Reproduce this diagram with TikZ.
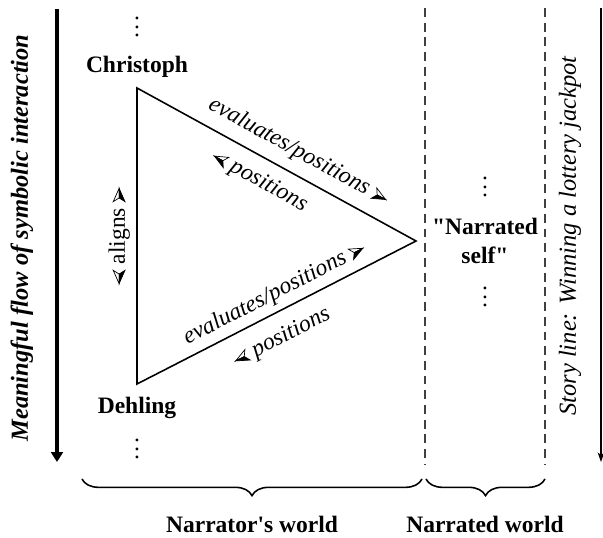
\documentclass[tikz,border=0pt]{standalone}
\usepackage{fontspec}
\setmainfont{Liberation Serif}[Ligatures=TeXOff]
\usepackage{graphicx}
\usetikzlibrary{positioning, arrows.meta, decorations.pathreplacing}

% small half-shaded arrowheads used inside the labels
\newcommand{\arwright}{\tikz[x=1pt, y=1pt, baseline=0pt, line width=0.35pt, line join=miter]{
		\filldraw[fill=white] (6.8,3) -- (0,6) -- (1.9,3) -- cycle;
		\filldraw[fill=black] (6.8,3) -- (1.9,3) -- (0,0) -- cycle;}}
\newcommand{\arwleft}{\reflectbox{\arwright}}
\newcommand{\stackdots}{\vbox{\baselineskip4.2pt\lineskiplimit0pt\hbox{.}\hbox{.}\hbox{.}}}

\begin{document}
\begin{tikzpicture}[
	x=0.51pt, y=-0.51pt,
	font=\fontsize{12}{14.4}\selectfont,
	actor/.style={
		font=\fontsize{12}{14.4}\selectfont\bfseries,
		align=center
	},
	relation/.style={
		font=\fontsize{12}{14.4}\selectfont\itshape,
		sloped,
		pos=#1
	},
	relation/.default=0.5,
	dots/.style={inner sep=0pt},
	triangle/.style={thick, line join=miter},
	flowarrow/.style={line width=2.5pt, -{Triangle[length=5pt, width=6pt]}},
	storyarrow/.style={line width=0.6pt, -{Stealth[length=5pt, width=3.5pt]}},
	divider/.style={line width=0.7pt, black!75, dash pattern=on 4.5pt off 3pt},
	worldbrace/.style={thick, decorate, decoration={brace, mirror, amplitude=8.5pt}}
	]
	\useasboundingbox (0,0) rectangle (603,538);
	
	% ======================
	% Narrator's world: the triangle
	% ======================
	\coordinate (chr) at (137,88);
	\coordinate (deh) at (137,384);
	\coordinate (nself) at (416,241);
	
	\node (christoph) [actor, above=2pt of chr] {Christoph};
	\node (dehling) [actor, below=3pt of deh] {Dehling};
	\node (chrdots) [dots] at (137,27) {\stackdots};
	\node (dehdots) [dots] at (137,449) {\stackdots};
	
	\draw[triangle] (chr)
	-- node[relation=0.54, above=2pt] {evaluates/positions \arwright}
	   node[relation=0.48, below=3pt] {\arwleft\ positions}
	(nself)
	-- node[relation=0.48, above=0pt] {evaluates/positions \arwright}
	   node[relation=0.52, below=4pt] {\arwleft\ positions}
	(deh)
	-- node[sloped, above=0pt] {\arwleft\ aligns \arwright}
	cycle;
	
	% ======================
	% Narrated world
	% ======================
	\node (selfnode) [actor] at (485,241) {"Narrated\\self"};
	\node (selfdotsup) [dots] at (485,187) {\stackdots};
	\node (selfdotsdown) [dots] at (485,297) {\stackdots};
	
	% dashed borders
	\coordinate (divatop) at (425,8);
	\coordinate (divabot) at (425,465);
	\coordinate (divbtop) at (545,8);
	\coordinate (divbbot) at (545,465);
	\draw[divider] (divatop) -- (divabot);
	\draw[divider] (divbtop) -- (divbbot);
	
	% ======================
	% Flow arrows
	% ======================
	\coordinate (flowtop) at (57,9);
	\coordinate (flowbot) at (57,462);
	\draw[flowarrow] (flowtop) -- (flowbot);
	\node (flowlabel) [rotate=90, font=\fontsize{12.5}{15}\selectfont\bfseries\itshape] at (22,238)
	{Meaningful flow of symbolic interaction};
	
	\coordinate (storytop) at (601,8);
	\coordinate (storybot) at (601,462);
	\draw[storyarrow] (storytop) -- (storybot);
	\node (storylabel) [rotate=90, font=\fontsize{12.5}{15}\selectfont\itshape] at (570,236)
	{Story line: Winning a lottery jackpot};
	
	% ======================
	% Braces and world labels
	% ======================
	\coordinate (bralft) at (82,479);
	\coordinate (brargt) at (422,479);
	\coordinate (bratip) at (252,496);
	\coordinate (brblft) at (426,479);
	\coordinate (brbrgt) at (545,479);
	\coordinate (brbtip) at (485,496);
	\draw[worldbrace] (bralft) -- (brargt);
	\draw[worldbrace] (brblft) -- (brbrgt);
	
	\node (narrator) [actor, below=7pt of bratip] {Narrator's world};
	\node (narrated) [actor, below=7pt of brbtip] {Narrated world};
	
\end{tikzpicture}
\end{document}
